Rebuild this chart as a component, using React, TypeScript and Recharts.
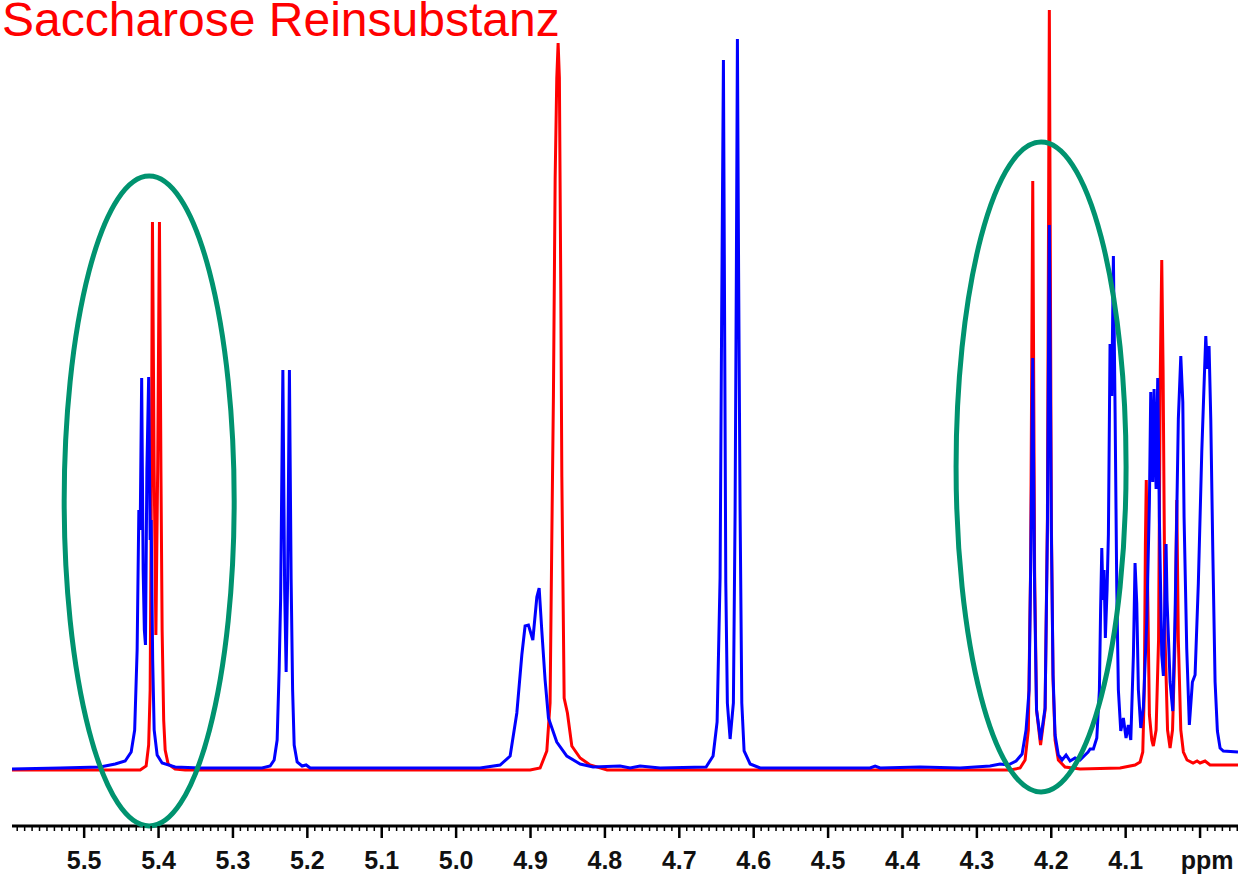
import { LineChart, Line, XAxis, YAxis, ReferenceDot } from "recharts";

// chemical shift (ppm) and intensity pairs, one list per multiplet
type Pt = [number, number];

// red trace: pure sucrose
const RED_LEAD: Pt[] = [[5.597, 0], [5.4247, 0]];
const RED_GLC_H1: Pt[] = [
  [5.4167, 4], [5.4133, 25], [5.4113, 80], [5.4099, 250], [5.4082, 548], [5.4059, 300],
  [5.4036, 135], [5.4012, 300], [5.3988, 548], [5.3968, 300], [5.3952, 140], [5.3931, 50],
  [5.3911, 20], [5.3871, 6], [5.3777, 1], [5.3642, 0],
];
const RED_HDO: Pt[] = [
  [4.9005, 0], [4.8871, 2], [4.8781, 19], [4.8737, 67], [4.8714, 230], [4.8692, 375],
  [4.8669, 591], [4.8647, 692], [4.8629, 727], [4.8612, 692], [4.8593, 480], [4.8579, 293],
  [4.8548, 72], [4.8504, 57], [4.8445, 24], [4.8333, 12], [4.8199, 5], [4.797, 0],
];
const RED_FRU_H3: Pt[] = [
  [4.2554, 0], [4.2419, 2], [4.2352, 10], [4.2308, 40], [4.2278, 200], [4.2249, 589],
  [4.2224, 200], [4.2198, 60], [4.2144, 25], [4.2083, 60], [4.2052, 250], [4.2026, 760],
  [4.1999, 250], [4.1976, 90], [4.1949, 30], [4.1905, 10], [4.1815, 3], [4.1613, 1],
  [4.1075, 2], [4.0874, 5],
];
const RED_FRU_H4: Pt[] = [
  [4.0806, 8], [4.077, 18], [4.0749, 82], [4.0735, 225], [4.0723, 290], [4.0708, 200],
  [4.0681, 55], [4.0649, 30], [4.0628, 24], [4.0591, 40], [4.0558, 130], [4.0534, 400],
  [4.0515, 510], [4.0497, 400], [4.047, 130], [4.0437, 40], [4.0403, 22], [4.037, 40],
  [4.0336, 130], [4.0313, 270], [4.0292, 130], [4.0259, 40], [4.0224, 18], [4.0175, 10],
  [4.0094, 7], [4.004, 9], [4.0, 7], [3.9933, 9], [3.9866, 5], [3.949, 5],
];

// blue trace: sample
const BLUE_LEAD: Pt[] = [
  [5.597, 1], [5.5323, 2], [5.4785, 3], [5.4583, 6], [5.4449, 9], [5.4368, 18], [5.4321, 40],
];
const BLUE_541: Pt[] = [
  [5.4288, 120], [5.4265, 260], [5.4247, 240], [5.4227, 392], [5.4207, 200], [5.4191, 140],
  [5.4176, 125], [5.4157, 300], [5.4133, 393], [5.4113, 230], [5.4099, 250], [5.4079, 110],
  [5.4059, 40], [5.4019, 15], [5.3952, 7], [5.3777, 3], [5.3441, 2],
];
const BLUE_523: Pt[] = [
  [5.2608, 2], [5.25, 4], [5.2446, 10], [5.2406, 30], [5.2379, 100], [5.2359, 172],
  [5.2329, 400], [5.2305, 180], [5.2285, 98], [5.2265, 190], [5.2241, 400], [5.2218, 191],
  [5.2198, 80], [5.2177, 25], [5.2137, 8], [5.207, 4], [5.2016, 5], [5.1962, 2],
];
const BLUE_490: Pt[] = [
  [4.9677, 2], [4.9409, 5], [4.9274, 14], [4.9184, 57], [4.9117, 115], [4.9073, 144],
  [4.9028, 145], [4.8969, 130], [4.8915, 173], [4.8884, 182], [4.8848, 139], [4.8804, 90],
  [4.8759, 52], [4.8647, 28], [4.8512, 14], [4.8333, 6], [4.8159, 3], [4.7796, 4],
  [4.7661, 2], [4.7527, 4], [4.7258, 2],
];
const BLUE_464: Pt[] = [
  [4.664, 3], [4.6546, 14], [4.6492, 48], [4.6452, 192], [4.6431, 450], [4.6407, 710],
  [4.6391, 450], [4.6375, 187], [4.6354, 67], [4.6317, 31], [4.6273, 67], [4.625, 259],
  [4.6233, 500], [4.6219, 731], [4.6203, 500], [4.6183, 259], [4.616, 67], [4.6129, 19],
  [4.6048, 6], [4.5914, 2], [4.4435, 2], [4.4368, 4], [4.4301, 2], [4.3763, 3], [4.3226, 2],
];
const BLUE_421: Pt[] = [
  [4.2823, 4], [4.2688, 6], [4.2581, 5], [4.2473, 9], [4.2392, 16], [4.2339, 40],
  [4.2298, 80], [4.2274, 220], [4.2249, 412], [4.2224, 180], [4.2198, 60], [4.2144, 30],
  [4.2083, 62], [4.2052, 240], [4.2026, 545], [4.1999, 240], [4.1976, 95], [4.1949, 35],
  [4.1905, 15], [4.1855, 10], [4.1801, 15], [4.1747, 9], [4.168, 12], [4.1613, 10],
  [4.1559, 14], [4.1505, 18], [4.1478, 21],
];
const BLUE_410: Pt[] = [
  [4.1434, 21], [4.1388, 32], [4.1353, 80], [4.1337, 160], [4.1321, 222], [4.1304, 170],
  [4.129, 200], [4.1273, 132], [4.125, 180], [4.1232, 236], [4.121, 426], [4.1187, 374],
  [4.1165, 514], [4.1142, 357], [4.112, 184], [4.1098, 80], [4.1066, 39], [4.1031, 52],
  [4.0995, 32], [4.0964, 45], [4.0931, 30], [4.0896, 115], [4.0874, 207], [4.0851, 167],
  [4.0829, 80], [4.0797, 42], [4.0762, 63], [4.0716, 150], [4.0681, 267], [4.0663, 378],
  [4.0636, 288], [4.0618, 381], [4.0591, 281], [4.0569, 392], [4.0547, 253], [4.0515, 115],
  [4.0493, 94], [4.047, 180], [4.0457, 226], [4.0444, 170], [4.0403, 88], [4.0367, 59],
];
const BLUE_400: Pt[] = [
  [4.0336, 154], [4.0292, 351], [4.0259, 414], [4.0232, 368], [4.0215, 253], [4.0179, 121],
  [4.0144, 45], [4.0103, 88], [4.0067, 95], [4.0023, 187], [3.9977, 318], [3.9942, 394],
  [3.9923, 434], [3.9902, 401], [3.9879, 424], [3.9856, 351], [3.9829, 220], [3.9798, 88],
  [3.9767, 39], [3.9731, 22], [3.9687, 19], [3.949, 18],
];

const RED_PARTS = [RED_LEAD, RED_GLC_H1, RED_HDO, RED_FRU_H3, RED_FRU_H4];
const BLUE_PARTS = [BLUE_LEAD, BLUE_541, BLUE_523, BLUE_490, BLUE_464, BLUE_421, BLUE_410, BLUE_400];

const MAJOR_TICKS = [5.5, 5.4, 5.3, 5.2, 5.1, 5.0, 4.9, 4.8, 4.7, 4.6, 4.5, 4.4, 4.3, 4.2, 4.1, 4.0];
const TICK_LABELS = ["5.5", "5.4", "5.3", "5.2", "5.1", "5.0", "4.9", "4.8", "4.7", "4.6", "4.5", "4.4", "4.3", "4.2", "4.1", "ppm"];

// circled regions: centre (ppm, intensity)
const MARKS: Pt[] = [[5.4126, 269], [4.2137, 303]];

const PPM_MIN = 3.949;
const PPM_MAX = 5.597;

const toRows = (parts: Pt[][]) =>
  parts.flat().map(([ppm, intensity]) => ({ ppm, intensity }));

const redData = toRows(RED_PARTS);
const blueData = toRows(BLUE_PARTS);

// every 0.01 ppm; the tenths get the long tick and a label
const allTicks: number[] = [];
for (let i = 395; i <= 559; i++) allTicks.push(i / 100);

const FONT = "'Liberation Sans', Arial, Helvetica, sans-serif";

function AxisTick(props: any) {
  const { x, y, payload } = props;
  const hundredths = Math.round(payload.value * 100);
  const major = hundredths % 10 === 0;
  const idx = MAJOR_TICKS.findIndex((t) => Math.round(t * 100) === hundredths);
  const label = idx >= 0 ? TICK_LABELS[idx] : null;
  return (
    <g>
      <line x1={x} x2={x} y1={y} y2={y + (major ? 12 : 5)} stroke="#000" strokeWidth={major ? 2.5 : 1.5} />
      {label && (
        <text
          x={label === "ppm" ? x + 7 : x}
          y={y + 43}
          textAnchor="middle"
          fontFamily={FONT}
          fontWeight="bold"
          fontSize={25}
          fill="#111"
        >
          {label}
        </text>
      )}
    </g>
  );
}

const Ring = (props: any) => (
  <ellipse cx={props.cx} cy={props.cy} rx={85} ry={325} fill="none" stroke="#00936F" strokeWidth={5} />
);

export default function App() {
  return (
    <div style={{ position: "absolute", left: 0, top: 0, width: 1238, height: 876, background: "#fff", overflow: "hidden" }}>
      <LineChart width={1238} height={876} margin={{ top: 0, right: 0, left: 12, bottom: 0 }}>
        <XAxis
          type="number"
          dataKey="ppm"
          domain={[PPM_MIN, PPM_MAX]}
          allowDataOverflow
          reversed
          ticks={allTicks}
          interval={0}
          height={50}
          tickSize={0}
          tickMargin={0}
          tickLine={false}
          axisLine={{ stroke: "#000", strokeWidth: 3 }}
          tick={<AxisTick />}
        />
        <YAxis type="number" domain={[-56, 770]} allowDataOverflow hide />
        {MARKS.map(([ppm, v], i) => (
          <ReferenceDot key={i} x={ppm} y={v} shape={<Ring />} ifOverflow="visible" />
        ))}
        <Line data={redData} dataKey="intensity" type="linear" stroke="#ff0000" strokeWidth={3} dot={false} isAnimationActive={false} />
        <Line data={blueData} dataKey="intensity" type="linear" stroke="#0000ff" strokeWidth={3} dot={false} isAnimationActive={false} />
      </LineChart>
      <svg width={600} height={50} style={{ position: "absolute", left: 0, top: 0 }}>
        <text x={2} y={36} fontFamily={FONT} fontSize={48} fill="#ff0000">
          Saccharose Reinsubstanz
        </text>
      </svg>
    </div>
  );
}
